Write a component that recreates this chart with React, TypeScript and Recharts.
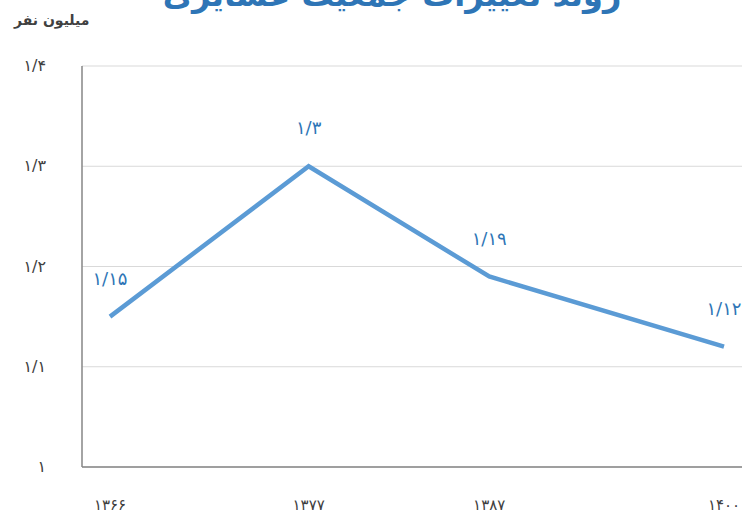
import { LineChart, Line, XAxis, YAxis, CartesianGrid, LabelList } from "recharts";

const years = [1366, 1377, 1387, 1400];
const population = [1.15, 1.3, 1.19, 1.12];
const yTicks = [1, 1.1, 1.2, 1.3, 1.4];

const data = years.map((y, i) => ({ year: y, value: population[i] }));

const FONT = "'DejaVu Sans', sans-serif";
const faDigits = "۰۱۲۳۴۵۶۷۸۹";

function toFa(n: number | string) {
  return String(n)
    .replace(/\d/g, (d) => faDigits[Number(d)])
    .replace(".", "/");
}

function YTick(props: any) {
  const { x, y, payload } = props;
  return (
    <text x={x - 28} y={y} dy={5} textAnchor="end" fontSize={16} fill="#404040" fontFamily={FONT}>
      {toFa(payload.value)}
    </text>
  );
}

function XTick(props: any) {
  const { x, y, payload } = props;
  return (
    <text x={x} y={y + 30} dy={5} textAnchor="middle" fontSize={15} fill="#404040" fontFamily={FONT}>
      {toFa(payload.value)}
    </text>
  );
}

function ValueLabel(props: any) {
  const { x, y, value } = props;
  return (
    <text x={x} y={y - 38} dy={6} textAnchor="middle" fontSize={18} fill="#2e75b6" fontFamily={FONT}>
      {toFa(value)}
    </text>
  );
}

export default function App() {
  return (
    <div style={{ position: "relative", width: 742, height: 516, overflow: "hidden", background: "#fff" }}>
      <style>{`body{margin:0}`}</style>
      <div
        style={{
          position: "absolute",
          top: -24,
          left: 0,
          width: 784,
          textAlign: "center",
          fontFamily: FONT,
          fontSize: 32,
          fontWeight: 700,
          color: "#2e75b6",
          direction: "rtl",
        }}
      >
        روند تغییرات جمعیت عشایری
      </div>
      <div
        style={{
          position: "absolute",
          top: 12,
          left: 14,
          fontFamily: FONT,
          fontSize: 14,
          fontWeight: 700,
          color: "#404040",
          direction: "rtl",
        }}
      >
        میلیون نفر
      </div>
      <LineChart width={742} height={516} data={data} margin={{ top: 66, right: 0, bottom: 0, left: 0 }}>
        <CartesianGrid vertical={false} stroke="#d9d9d9" strokeWidth={1} />
        <XAxis
          dataKey="year"
          type="number"
          domain={[1366, 1400]}
          ticks={years}
          padding={{ left: 28, right: 18 }}
          height={49}
          axisLine={{ stroke: "#868686", strokeWidth: 1.5 }}
          tickLine={false}
          tick={<XTick />}
        />
        <YAxis
          domain={[1, 1.4]}
          ticks={yTicks}
          width={82}
          axisLine={{ stroke: "#868686", strokeWidth: 1.5 }}
          tickLine={false}
          tick={<YTick />}
        />
        <Line
          type="linear"
          dataKey="value"
          stroke="#5b9bd5"
          strokeWidth={4.5}
          dot={false}
          isAnimationActive={false}
        >
          <LabelList dataKey="value" content={<ValueLabel />} />
        </Line>
      </LineChart>
    </div>
  );
}
